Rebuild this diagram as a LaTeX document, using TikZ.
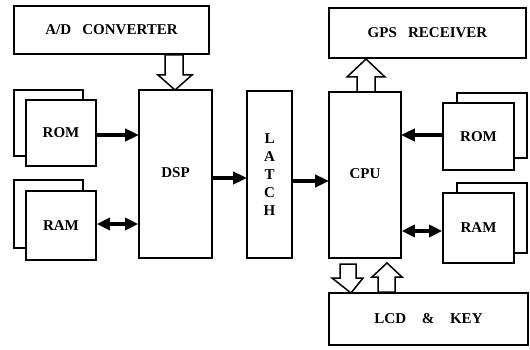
\documentclass[tikz,border=0pt]{standalone}
\usepackage{fontspec}
\setmainfont{Liberation Serif}
\usetikzlibrary{arrows.meta}
\begin{document}
\begin{tikzpicture}[x=1pt,y=-1pt,
  box/.style={draw,line width=1.6pt,fill=white,inner sep=0pt,font=\bfseries\fontsize{15}{18}\selectfont},
  sarrow/.style={line width=3.5pt,-{Triangle[length=14pt,width=12pt]},shorten >=-1pt},
  darrow/.style={line width=3.5pt,{Triangle[length=13pt,width=12pt]}-{Triangle[length=13pt,width=12pt]}},
  hollow/.style={draw,line width=1.5pt,fill=white,line join=miter}]
\useasboundingbox (0,0) rectangle (530,350);
% main boxes
\node[box,minimum width=195pt,minimum height=48pt] (ad) at (111.5,30) {A/D\enspace\ CONVERTER};
\node[box,minimum width=197pt,minimum height=50pt] (gps) at (427.5,33) {GPS\enspace\ RECEIVER};
\node[box,minimum width=199pt,minimum height=52pt] (lcd) at (428.5,319) {LCD\hspace{12pt} \&\hspace{12pt} KEY};
\node[box,minimum width=73pt,minimum height=168pt] (dsp) at (175.5,174) {\raisebox{3pt}{DSP}};
\node[box,minimum width=45pt,minimum height=167pt,align=center] (latch) at (269.5,174.5)
  {L\\A\\T\\C\\H};
\node[box,minimum width=72pt,minimum height=166pt] (cpu) at (365,175) {\raisebox{3pt}{CPU}};
% memory stacks, left
\node[box,minimum width=69pt,minimum height=66pt] (romLb) at (48.5,123) {};
\node[box,minimum width=70pt,minimum height=66pt] (romL) at (61,133) {\raisebox{-2pt}{ROM}};
\node[box,minimum width=69pt,minimum height=68pt] (ramLb) at (48.5,214) {};
\node[box,minimum width=70pt,minimum height=69pt] (ramL) at (61,225.5) {RAM};
% memory stacks, right
\node[box,minimum width=70pt,minimum height=65pt] (romRb) at (492,125.5) {};
\node[box,minimum width=71pt,minimum height=67pt] (romR) at (478.5,136.5) {ROM};
\node[box,minimum width=70pt,minimum height=70pt] (ramRb) at (492,218) {};
\node[box,minimum width=71pt,minimum height=70pt] (ramR) at (478.5,228) {RAM};
% solid connectors
\draw[sarrow] ([yshift=-2pt]romL.east) -- ([yshift=-2pt]romL.east -| dsp.west);
\draw[darrow] ([yshift=1.5pt]ramL.east) -- ([yshift=1.5pt]ramL.east -| dsp.west);
\draw[sarrow] ([yshift=-4pt]dsp.east) -- ([yshift=-4pt]dsp.east -| latch.west);
\draw[sarrow] ([yshift=-6.5pt]latch.east) -- ([yshift=-6.5pt]latch.east -| cpu.west);
\draw[sarrow] ([yshift=1.5pt]romR.west) -- ([yshift=1.5pt]romR.west -| cpu.east);
\draw[darrow] ([yshift=-3pt]ramR.west) -- ([yshift=-3pt]ramR.west -| cpu.east);
% hollow bus arrows
\draw[hollow] (165,55) -- (183,55) -- (183,75) -- (192,75) -- (175,90) -- (158,75) -- (165,75) -- cycle;
\draw[hollow] (357,92) -- (375,92) -- (375,77) -- (385,77) -- (366,59) -- (347,77) -- (357,77) -- cycle;
\draw[hollow] (340,264) -- (356,264) -- (356,278) -- (363,278) -- (351,293) -- (332,278) -- (340,278) -- cycle;
\draw[hollow] (378,292) -- (395,292) -- (395,277) -- (402,277) -- (387,263) -- (372,277) -- (378,277) -- cycle;
\end{tikzpicture}
\end{document}
